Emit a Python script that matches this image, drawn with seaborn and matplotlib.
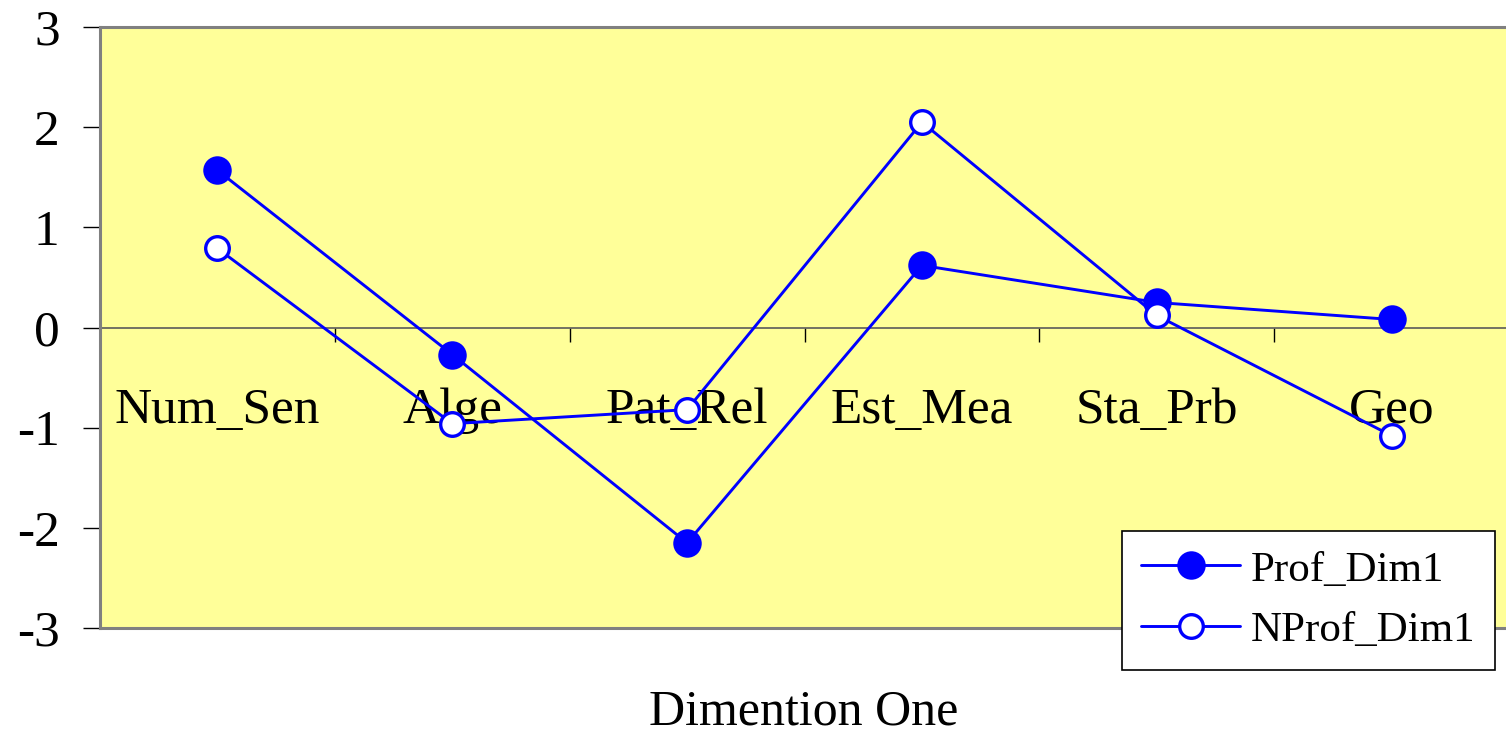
import matplotlib
matplotlib.use("Agg")
import matplotlib.pyplot as plt
import seaborn as sns
import pandas as pd

categories = ["Num_Sen", "Alge", "Pat_Rel", "Est_Mea", "Sta_Prb", "Geo"]
prof_dim1 = [1.57, -0.27, -2.15, 0.62, 0.25, 0.08]
nprof_dim1 = [0.79, -0.96, -0.82, 2.05, 0.12, -1.08]
y_ticks = [-3, -2, -1, 0, 1, 2, 3]

sns.set_theme(style="white")
plt.rcParams["font.family"] = ["Liberation Serif", "DejaVu Serif"]
plt.rcParams["axes.unicode_minus"] = False
plt.rcParams["text.color"] = "black"
plt.rcParams["xtick.color"] = "black"
plt.rcParams["ytick.color"] = "black"

fig = plt.figure(figsize=(15.06, 7.33), dpi=100)
ax = fig.add_axes([100 / 1506, 1 - 628 / 733, 1.002 - 100 / 1506, 601 / 733])
ax.set_facecolor("#FFFF99")

df = pd.DataFrame({"cat": categories, "Prof_Dim1": prof_dim1, "NProf_Dim1": nprof_dim1})
pos = list(range(len(categories)))

sns.lineplot(x=pos, y=df["Prof_Dim1"], ax=ax, color="blue", lw=2.1,
             marker="o", markersize=19, markerfacecolor="blue",
             markeredgecolor="blue", markeredgewidth=1.5, label="Prof_Dim1")
sns.lineplot(x=pos, y=df["NProf_Dim1"], ax=ax, color="blue", lw=2.1,
             marker="o", markersize=17, markerfacecolor="white",
             markeredgecolor="blue", markeredgewidth=2.4, label="NProf_Dim1")

ax.set_xlim(-0.5, len(categories) - 0.5)
ax.set_ylim(-3, 3)
ax.set_yticks(y_ticks)
ax.set_yticklabels([str(v) for v in y_ticks], fontsize=37)
ax.tick_params(axis="y", direction="out", length=12, width=1, color="black",
               pad=17, left=True)
ax.set_xticks([])
ax.set_xlabel("")
ax.set_ylabel("")
for side in ["top", "left", "bottom"]:
    ax.spines[side].set_color("#808080")
    ax.spines[side].set_linewidth(2.2)
ax.spines["right"].set_visible(False)

# category axis running along y = 0
zax = ax.secondary_xaxis(0.49999)
zax.spines["bottom"].set_color("#5a5a5a")
zax.spines["bottom"].set_linewidth(1.2)
zax.set_xticks([p - 0.5 for p in pos] + [len(categories) - 0.5])
zax.set_xticklabels([])
zax.tick_params(axis="x", which="major", direction="out", length=10, width=1,
                color="black", bottom=True, top=False)
zax.set_xticks(pos, minor=True)
zax.set_xticklabels(categories, minor=True, fontsize=37)
zax.tick_params(axis="x", which="minor", length=0, pad=43,
                bottom=True, top=False, labelbottom=True, labeltop=False)

fig.text(0.5335, 1 - 712 / 733, "Dimention One", fontsize=36,
         ha="center", va="center")

leg = ax.legend(loc="upper left", bbox_to_anchor=(1122 / 1506, 1 - 531 / 733),
                bbox_transform=fig.transFigure, fontsize=31, frameon=True,
                fancybox=False, edgecolor="black", framealpha=1,
                handlelength=2.3, handletextpad=0.25, borderpad=0.45,
                labelspacing=0.5, borderaxespad=0)
leg.get_frame().set_linewidth(1.2)

fig.savefig("out.png", dpi=100)
